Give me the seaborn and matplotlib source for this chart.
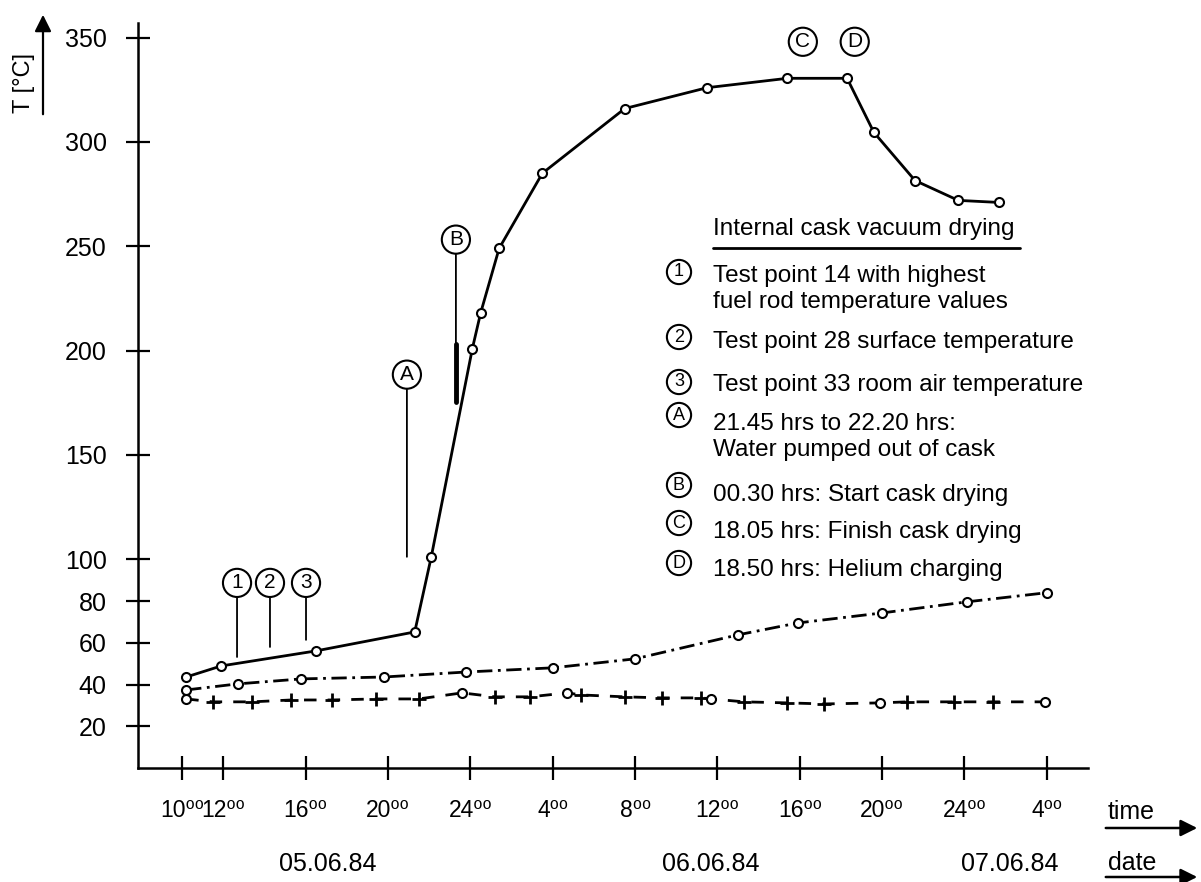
import matplotlib
matplotlib.use("Agg")
import matplotlib.pyplot as plt
import seaborn as sns

# x axis = hours after 10:00 on 05.06.84
tick_hours = [0, 2, 6, 10, 14, 18, 22, 26, 30, 34, 38, 42]
tick_labels = ["10⁰⁰", "12⁰⁰", "16⁰⁰", "20⁰⁰", "24⁰⁰", "4⁰⁰",
               "8⁰⁰", "12⁰⁰", "16⁰⁰", "20⁰⁰", "24⁰⁰", "4⁰⁰"]
temp_ticks = [20, 40, 60, 80, 100, 150, 200, 250, 300, 350]
dates = ["05.06.84", "06.06.84", "07.06.84"]
date_hours = [7.1, 25.7, 40.2]

# (1) test point 14, fuel rod
tp14_hours = [0.2, 1.9, 6.5, 11.3, 12.1, 14.1, 14.5, 15.4, 17.5, 21.5,
              25.5, 29.4, 32.3, 33.6, 35.6, 37.7, 39.7]
tp14_temp = [43.6, 48.9, 56.1, 65.2, 101, 201, 218, 249, 285, 316,
             326, 330.5, 330.5, 304.6, 281.5, 272, 271]

# (2) test point 28, surface
tp28_hours = [0.2, 2.7, 5.8, 9.8, 13.8, 18.0, 22.0, 27.0, 29.9, 34.0, 38.1, 42.0]
tp28_temp = [37.4, 40.3, 42.7, 43.6, 46.0, 48.0, 52.3, 63.8, 69.5, 74.3, 79.6, 84.0]

# (3) test point 33, room air: circled readings and cross readings
tp33_circ_hours = [0.2, 13.6, 18.7, 25.7, 33.9, 41.9]
tp33_circ_temp = [33.1, 36.0, 36.0, 33.1, 31.2, 31.7]
tp33_cross_hours = [1.5, 3.4, 5.3, 7.3, 9.4, 11.5, 15.2, 16.9, 19.4, 21.5,
                    23.3, 25.2, 27.3, 29.4, 31.2, 35.2, 37.5, 39.4]
tp33_cross_temp = [31.7, 31.7, 32.6, 32.6, 33.1, 33.1, 34.1, 34.1, 35.0, 34.1,
                   33.6, 33.6, 31.7, 31.2, 30.7, 31.7, 31.7, 31.7]

legend_title = "Internal cask vacuum drying"
legend_items = [
    ("1", "Test point 14 with highest\nfuel rod temperature values"),
    ("2", "Test point 28 surface temperature"),
    ("3", "Test point 33 room air temperature"),
    ("A", "21.45 hrs to 22.20 hrs:\nWater pumped out of cask"),
    ("B", "00.30 hrs: Start cask drying"),
    ("C", "18.05 hrs: Finish cask drying"),
    ("D", "18.50 hrs: Helium charging"),
]

sns.set_style("ticks")
plt.rcParams["font.family"] = ["Liberation Sans", "DejaVu Sans"]
plt.rcParams["text.color"] = "black"

W, H = 1201, 882
fig = plt.figure(figsize=(W / 100, H / 100), dpi=100)
ax = fig.add_axes([138 / W, 1 - 768 / H, (1088 - 138) / W, (768 - 23) / H])

mk = dict(marker="o", markersize=6.5, markerfacecolor="white",
          markeredgecolor="black", markeredgewidth=1.5)

sns.lineplot(x=tp14_hours, y=tp14_temp, ax=ax, color="black", lw=2, **mk)
sns.lineplot(x=tp28_hours, y=tp28_temp, ax=ax, color="black", lw=2,
             linestyle=(0, (5.5, 2, 1, 2)), **mk)
sns.lineplot(x=tp33_circ_hours + tp33_cross_hours, y=tp33_circ_temp + tp33_cross_temp,
             ax=ax, color="black", lw=2, linestyle=(0, (4.5, 4)))
ax.plot(tp33_cross_hours, tp33_cross_temp, ls="none", marker="+",
        markersize=10, mew=2, color="black")
ax.plot(tp33_circ_hours, tp33_circ_temp, ls="none", **mk)

ax.set_xlim(-2.14, 44)
ax.set_ylim(0, 357)
ax.set_xticks(tick_hours)
ax.set_xticklabels(tick_labels)
ax.set_yticks(temp_ticks)
ax.tick_params(axis="both", direction="inout", length=17, width=1.6,
               colors="black", labelcolor="black")
ax.tick_params(axis="y", pad=14, labelsize=18)
ax.tick_params(axis="x", pad=14, labelsize=16.5)
ax.set_xlabel("")
ax.set_ylabel("")
sns.despine(ax=ax)
for s in ["left", "bottom"]:
    ax.spines[s].set_linewidth(1.8)
    ax.spines[s].set_color("black")

# circled markers on the curves
circ = dict(boxstyle="circle,pad=0.22", fc="white", ec="black", lw=1.5)
line = dict(arrowstyle="-", lw=1.3, color="black", shrinkA=0, shrinkB=0)
for lab, h, t0, t1 in [("1", 2.67, 88.7, 53.2), ("2", 4.27, 88.7, 58.0),
                       ("3", 6.02, 88.7, 61.4), ("A", 10.92, 188.5, 101.2),
                       ("B", 13.3, 253.2, 175.5)]:
    ax.annotate(lab, xy=(h, t1), xytext=(h, t0), ha="center", va="center",
                fontsize=15, bbox=circ, arrowprops=line)
ax.plot([13.3, 13.3], [175.5, 203], color="black", lw=3.5)
for lab, h in [("C", 30.15), ("D", 32.67)]:
    ax.text(h, 348, lab, ha="center", va="center", fontsize=15, bbox=circ)

# legend block
def fx(px):
    return px / W


def fy(py):
    return 1 - py / H


fig.text(fx(713), fy(229), legend_title, fontsize=17.5, va="center")
fig.add_artist(plt.Line2D([fx(713), fx(1020)], [fy(248), fy(248)],
                          color="black", lw=2))
rows = [272, 337, 382, 415, 485, 523, 563]
text_y = [289, 342, 385, 437, 495, 532, 570]
small = dict(boxstyle="circle,pad=0.2", fc="white", ec="black", lw=1.5)
for (lab, txt), ry, ty in zip(legend_items, rows, text_y):
    fig.text(fx(679), fy(ry), lab, fontsize=13, ha="center", va="center", bbox=small)
    fig.text(fx(713), fy(ty), txt, fontsize=17.5, va="center", linespacing=1.25)

# date row under the time axis
for d, h in zip(dates, date_hours):
    ax.text(h, -0.129, d, transform=ax.get_xaxis_transform(),
            ha="center", va="center", fontsize=18)

# y label with arrow
fig.text(fx(24), fy(83), "T [°C]", rotation=90, fontsize=17, ha="center", va="center")
ax.annotate("", xy=(43, H - 12), xytext=(43, H - 117), xycoords="figure pixels",
            arrowprops=dict(arrowstyle="-|>", color="black", lw=1.6, mutation_scale=25))

# time and date arrows
fig.text(fx(1108), fy(812), "time", fontsize=18, va="center")
fig.text(fx(1108), fy(863), "date", fontsize=18, va="center")
for py in [828, 877]:
    ax.annotate("", xy=(1200, H - py), xytext=(1103, H - py), xycoords="figure pixels",
                arrowprops=dict(arrowstyle="-|>", color="black", lw=1.8, mutation_scale=25))

fig.savefig("out.png", dpi=100, facecolor="white")
